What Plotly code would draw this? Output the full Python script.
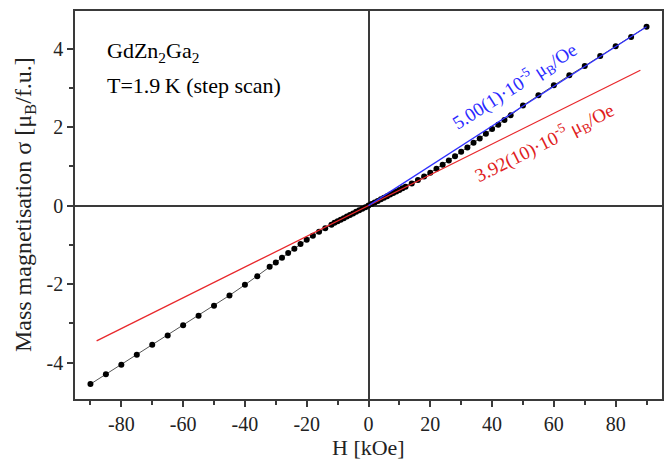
import plotly.graph_objects as go

# Field H [kOe] and mass magnetisation sigma [muB/f.u.]
H = [-90, -85, -80, -75, -70, -65, -60, -55, -50, -45, -40, -36,
     -32, -30, -28, -26, -24, -22, -20, -18, -16, -14, -12,
     -11, -10, -9, -8, -7, -6, -5, -4, -3, -2, -1, 0,
     1, 2, 3, 4, 5, 6, 7, 8, 9, 10, 11,
     12, 14, 16, 18, 20, 22, 24, 26, 28, 30, 32, 34, 36, 38, 40, 42, 44, 46,
     50, 55, 60, 65, 70, 75, 80, 85, 90]
SIGMA = [-4.55, -4.30, -4.06, -3.80, -3.55, -3.31, -3.05, -2.81, -2.55, -2.29, -2.02, -1.80,
         -1.56, -1.45, -1.33, -1.21, -1.10, -0.98, -0.87, -0.77, -0.67, -0.58, -0.49,
         -0.44, -0.40, -0.36, -0.32, -0.28, -0.24, -0.20, -0.16, -0.12, -0.08, -0.04, 0.0,
         0.04, 0.08, 0.12, 0.16, 0.20, 0.24, 0.28, 0.32, 0.36, 0.40, 0.44,
         0.48, 0.56, 0.65, 0.74, 0.84, 0.94, 1.04, 1.15, 1.26, 1.37, 1.48, 1.60, 1.71, 1.83, 1.95, 2.06, 2.18, 2.30,
         2.55, 2.81, 3.07, 3.32, 3.56, 3.81, 4.06, 4.30, 4.56]

# Linear fits
FIT_HIGH_H = [0, 90]
FIT_HIGH_S = [0.0, 4.56]
FIT_LOW_H = [-88, 88]
FIT_LOW_S = [-3.45, 3.45]

XTICKS = [-80, -60, -40, -20, 0, 20, 40, 60, 80]
XTICKTEXT = ["-80", "-60", "-40", "-20", "0", "20", "40", "60", "80"]
YTICKS = [-4, -2, 0, 2, 4]
YTICKTEXT = ["-4", "-2", "0", "2", "4"]

FONT = "Liberation Serif, Times New Roman, serif"
AX = "#3a3a3a"

fig = go.Figure()
fig.add_trace(go.Scatter(x=H, y=SIGMA, mode="lines+markers",
                         line=dict(color="#555555", width=1),
                         marker=dict(color="black", size=6),
                         showlegend=False))
fig.add_trace(go.Scatter(x=FIT_LOW_H, y=FIT_LOW_S, mode="lines",
                         line=dict(color="#e8282c", width=1.3), showlegend=False))
fig.add_trace(go.Scatter(x=FIT_HIGH_H, y=FIT_HIGH_S, mode="lines",
                         line=dict(color="#3030ff", width=1.3), showlegend=False))

fig.add_annotation(x=0.051, y=0.894, xref="paper", yref="paper", xanchor="left", yanchor="middle",
                   text="GdZn<sub>2</sub>Ga<sub>2</sub>", showarrow=False,
                   font=dict(family=FONT, size=22, color="black"))
fig.add_annotation(x=0.051, y=0.809, xref="paper", yref="paper", xanchor="left", yanchor="middle",
                   text="T=1.9\u2009K (step scan)", showarrow=False,
                   font=dict(family=FONT, size=22, color="black"))
fig.add_annotation(x=47.1, y=3.04, text="5.00(1)\u00b710<sup>-5</sup> \u03bc<sub>B</sub>/Oe",
                   showarrow=False, textangle=-32.5,
                   font=dict(family=FONT, size=19, color="#2a2aff"))
fig.add_annotation(x=57.1, y=1.61, text="3.92(10)\u00b710<sup>-5</sup> \u03bc<sub>B</sub>/Oe",
                   showarrow=False, textangle=-26.5,
                   font=dict(family=FONT, size=19, color="#e02020"))

# Axis titles placed as annotations (fixed layout)
fig.add_annotation(x=0.5, y=-0.125, xref="paper", yref="paper", xanchor="center", yanchor="middle",
                   text="H [kOe]", showarrow=False,
                   font=dict(family=FONT, size=22, color="#222222"))
fig.add_annotation(x=-0.085, y=0.5, xref="paper", yref="paper", xanchor="center", yanchor="middle",
                   text="Mass magnetisation \u03c3 [\u03bc<sub>B</sub>/f.u.]", showarrow=False, textangle=-90,
                   font=dict(family=FONT, size=24, color="#222222"))

fig.update_layout(
    width=665, height=462,
    margin=dict(l=75, r=3, t=11, b=63),
    paper_bgcolor="white", plot_bgcolor="white",
    font=dict(family=FONT, size=20, color="#222222"),
)
fig.update_xaxes(range=[-95, 95], tickvals=XTICKS, ticktext=XTICKTEXT, automargin=False,
                 ticks="outside", ticklen=6, tickwidth=1.5, tickcolor=AX,
                 minor=dict(dtick=10, tick0=10, ticks="outside", ticklen=4, tickwidth=1.5, tickcolor=AX),
                 showline=True, linecolor=AX, linewidth=1.5, mirror=True,
                 showgrid=False, zeroline=True, zerolinecolor=AX, zerolinewidth=1.5)
fig.update_yaxes(range=[-4.93, 4.96], tickvals=YTICKS, ticktext=YTICKTEXT, automargin=False,
                 ticks="outside", ticklen=6, tickwidth=1.5, tickcolor=AX,
                 minor=dict(dtick=1, tick0=1, ticks="outside", ticklen=4, tickwidth=1.5, tickcolor=AX),
                 showline=True, linecolor=AX, linewidth=1.5, mirror=True,
                 showgrid=False, zeroline=True, zerolinecolor=AX, zerolinewidth=1.5)

fig.write_html("out.html", config={"displayModeBar": False},
               post_script="document.body.style.margin='0px';document.body.style.overflow='hidden';")
